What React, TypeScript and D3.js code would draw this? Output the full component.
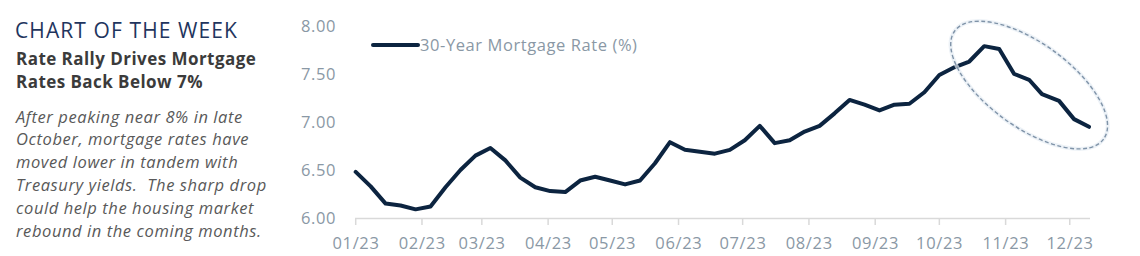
import React from "react";
import * as d3 from "d3";

const dates = [
  "2023-01-05","2023-01-12","2023-01-19","2023-01-26","2023-02-02","2023-02-09","2023-02-16","2023-02-23",
  "2023-03-02","2023-03-09","2023-03-16","2023-03-23","2023-03-30","2023-04-06","2023-04-13","2023-04-20",
  "2023-04-27","2023-05-04","2023-05-11","2023-05-18","2023-05-25","2023-06-01","2023-06-08","2023-06-15",
  "2023-06-22","2023-06-29","2023-07-06","2023-07-13","2023-07-20","2023-07-27","2023-08-03","2023-08-10",
  "2023-08-17","2023-08-24","2023-08-31","2023-09-07","2023-09-14","2023-09-21","2023-09-28","2023-10-05",
  "2023-10-12","2023-10-19","2023-10-26","2023-11-02","2023-11-09","2023-11-16","2023-11-22","2023-11-30",
  "2023-12-07","2023-12-14",
];
const rates = [
  6.48, 6.33, 6.15, 6.13, 6.09, 6.12, 6.32, 6.50,
  6.65, 6.73, 6.60, 6.42, 6.32, 6.28, 6.27, 6.39,
  6.43, 6.39, 6.35, 6.39, 6.57, 6.79, 6.71, 6.69,
  6.67, 6.71, 6.81, 6.96, 6.78, 6.81, 6.90, 6.96,
  7.09, 7.23, 7.18, 7.12, 7.18, 7.19, 7.31, 7.49,
  7.57, 7.63, 7.79, 7.76, 7.50, 7.44, 7.29, 7.22,
  7.03, 6.95,
];
const yTicks = [6.0, 6.5, 7.0, 7.5, 8.0];
const seriesName = "30-Year Mortgage Rate (%)";
const kicker = "CHART OF THE WEEK";
const titleLines = ["Rate Rally Drives Mortgage", "Rates Back Below 7%"];
const bodyLines = [
  "After peaking near 8% in late",
  "October, mortgage rates have",
  "moved lower in tandem with",
  "Treasury yields.  The sharp drop",
  "could help the housing market",
  "rebound in the coming months.",
];
const highlightCenter = { date: "2023-11-16", value: 7.385 };

const parse = d3.timeParse("%Y-%m-%d");
const data = dates.map((d, i) => ({ date: parse(d) as Date, value: rates[i] }));

export default function App() {
  const W = 1140, H = 256;
  const x = d3.scaleTime().domain([data[0].date, data[data.length - 1].date]).range([355.7, 1089]);
  const y = d3.scaleLinear().domain([6, 8]).range([218, 26]);
  const ticks: Date[] = [];
  for (let m = 0; m < 12; m++) ticks.push(d3.timeMonth.offset(data[0].date, m));
  const fmt = d3.timeFormat("%m/%y");
  const line = d3.line<{ date: Date; value: number }>().x(d => x(d.date)).y(d => y(d.value));
  const font = "'Open Sans', sans-serif";
  const tickColor = "#8a98a5";
  const cx = x(parse(highlightCenter.date) as Date);
  const cy = y(highlightCenter.value);
  return (
    <svg width={W} height={H} style={{ position: "absolute", left: 0, top: 0, background: "#fff" }} fontFamily={font}>
      <rect width={W} height={H} fill="#fff" />
      <text x={15} y={38} fontSize={21} letterSpacing={1.1} fill="#1f355e" fontWeight={400}>{kicker}</text>
      {titleLines.map((t, i) => (
        <text key={t} x={16} y={65 + i * 23} fontSize={17} letterSpacing={0.45} fontWeight={700} fill="#3b3b3b">{t}</text>
      ))}
      {bodyLines.map((t, i) => (
        <text key={t} x={16} y={122.5 + i * 22.9} fontSize={16.5} letterSpacing={0.58} fontStyle="italic" fill="#595959" style={{ whiteSpace: "pre" }}>{t}</text>
      ))}
      {yTicks.map(v => (
        <text key={v} x={336} y={y(v) + 6} textAnchor="end" fontSize={16.5} letterSpacing={0.6} fill={tickColor}>{v.toFixed(2)}</text>
      ))}
      <line x1={355} x2={1090} y1={218.5} y2={218.5} stroke="#d9d9d9" strokeWidth={1.5} />
      {ticks.map(t => (
        <g key={t.toISOString()}>
          <line x1={x(t)} x2={x(t)} y1={218.5} y2={225} stroke="#d9d9d9" strokeWidth={1.5} />
          <text x={x(t) + 0.3} y={249} textAnchor="middle" fontSize={16.5} letterSpacing={0.65} fill={tickColor}>{fmt(t)}</text>
        </g>
      ))}
      <path d={line(data) || ""} fill="none" stroke="#0c2440" strokeWidth={4} strokeLinejoin="round" strokeLinecap="round" />
      <line x1={373} x2={418} y1={45} y2={45} stroke="#0c2440" strokeWidth={4} strokeLinecap="round" />
      <text x={420} y={51} fontSize={16.5} letterSpacing={0.58} fill={tickColor}>{seriesName}</text>
      <ellipse cx={cx} cy={cy} rx={92} ry={42} transform={`rotate(36 ${cx} ${cy})`} fill="none" stroke="#e6edf3" strokeWidth={4} opacity={0.7} />
      <ellipse cx={cx} cy={cy} rx={92} ry={42} transform={`rotate(36 ${cx} ${cy})`} fill="none" stroke="#7f93a8" strokeWidth={1.4} strokeDasharray="4 2.5" />
    </svg>
  );
}
